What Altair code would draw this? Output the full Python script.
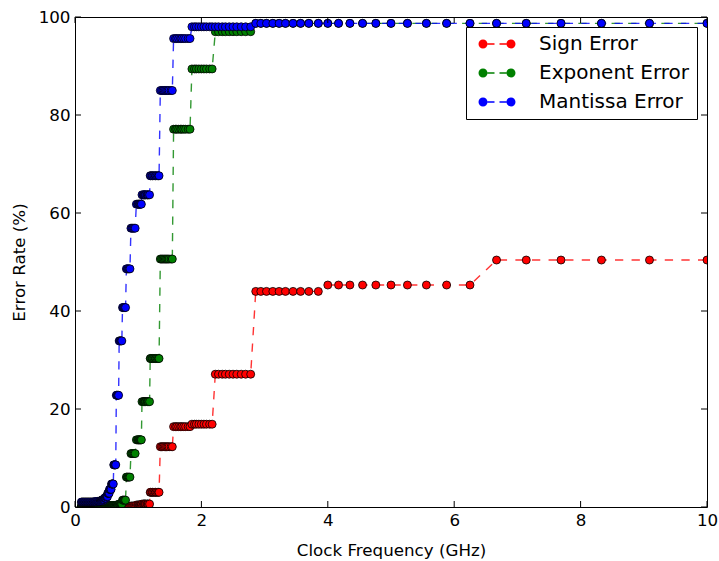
import altair as alt
import pandas as pd

FONT = "DejaVu Sans"

# Clock frequencies (GHz), grouped by plateau, ascending
freq_groups = [
    [0.10, 0.11, 0.12, 0.13, 0.14, 0.15, 0.16, 0.17, 0.18, 0.19,
     0.20, 0.21, 0.22, 0.23, 0.24, 0.25, 0.26, 0.27, 0.28, 0.29],
    [0.30, 0.31, 0.32, 0.33, 0.34, 0.35],
    [0.36, 0.37, 0.38, 0.39],
    [0.40, 0.405, 0.41, 0.415],
    [0.42, 0.425, 0.43, 0.435],
    [0.44, 0.445, 0.45, 0.455, 0.46],
    [0.465, 0.47, 0.475, 0.48, 0.488],
    [0.493, 0.498, 0.503, 0.508, 0.513],
    [0.518, 0.524, 0.529, 0.535, 0.541],
    [0.546, 0.552, 0.559, 0.565, 0.571],
    [0.578, 0.585, 0.592, 0.599, 0.606],
    [0.613, 0.621, 0.629, 0.637, 0.645],
    [0.654, 0.662, 0.671, 0.680, 0.690],
    [0.699, 0.709, 0.719, 0.730, 0.741],
    [0.752, 0.763, 0.775, 0.787, 0.800],
    [0.813, 0.826, 0.840, 0.855, 0.870],
    [0.885, 0.901, 0.917, 0.935, 0.952],
    [0.971, 0.990, 1.00, 1.01, 1.02, 1.03, 1.04, 1.05],
    [1.06, 1.08, 1.09, 1.10, 1.11, 1.12, 1.14, 1.15, 1.16, 1.18],
    [1.19, 1.20, 1.22, 1.23, 1.25, 1.27, 1.28, 1.30, 1.32, 1.33],
    [1.35, 1.37, 1.39, 1.41, 1.43, 1.45, 1.47, 1.49, 1.52, 1.54],
    [1.56, 1.59, 1.61, 1.64, 1.67, 1.69, 1.72, 1.75, 1.79, 1.82],
    [1.85, 1.89, 1.92, 1.96, 2.00, 2.04, 2.08, 2.13, 2.17],
    [2.22, 2.27, 2.33, 2.38, 2.44, 2.50, 2.56, 2.63, 2.70, 2.78],
    [2.86, 2.94, 3.03, 3.13, 3.23, 3.33, 3.45, 3.57, 3.70, 3.85],
    [4.00, 4.17, 4.35, 4.55, 4.76, 5.00, 5.26, 5.56, 5.88, 6.25],
    [6.67, 7.14, 7.69, 8.33, 9.09, 10.0],
]

# Error rate (%) of each plateau
sign_levels = [0, 0, 0, 0, 0, 0, 0, 0, 0, 0, 0, 0, 0, 0, 0,
               0.1, 0.2, 0.4, 0.6, 3.0, 12.3, 16.4, 16.9, 27.1, 44.0, 45.3, 50.4]
exponent_levels = [0.2, 0.2, 0.2, 0.3, 0.3, 0.3, 0.3, 0.3, 0.3, 0.3, 0.3, 0.3, 0.4, 0.6, 1.4,
                   6.1, 10.9, 13.7, 21.5, 30.3, 50.6, 77.1, 89.4, 97.0, 98.7, 98.7, 98.7]
mantissa_levels = [1.0, 1.05, 1.15, 1.25, 1.35, 1.5, 1.8, 2.1, 2.8, 3.6, 4.7, 8.6, 22.8, 33.9, 40.7,
                   48.6, 56.9, 61.8, 63.7, 67.6, 85.0, 95.6, 98.0, 98.0, 98.7, 98.7, 98.7]

series_names = ["Sign Error", "Exponent Error", "Mantissa Error"]
series_colors = ["#ff0000", "#008000", "#0000ff"]
x_ticks = [0, 2, 4, 6, 8, 10]
y_ticks = [0, 20, 40, 60, 80, 100]

W, H = 632, 490
TICK = 6

rows = []
for name, levels in zip(series_names, [sign_levels, exponent_levels, mantissa_levels]):
    k = 0
    for grp, lev in zip(freq_groups, levels):
        for f in grp:
            rows.append({"series": name, "freq": f, "rate": lev, "order": k})
            k += 1
df = pd.DataFrame(rows)
xt_df = pd.DataFrame({"freq": x_ticks})
yt_df = pd.DataFrame({"rate": y_ticks})

xscale = alt.Scale(domain=[0, 10], nice=False, zero=False)
yscale = alt.Scale(domain=[0, 100], nice=False, zero=False)
col_scale = alt.Scale(domain=series_names, range=series_colors)

axis_common = dict(domain=False, grid=False, ticks=False, tickSize=0,
                   labelFont=FONT, labelFontSize=16.7, labelColor="black",
                   titleFont=FONT, titleFontSize=16.7, titleFontWeight="normal",
                   titleColor="black", labelFlush=False, labelOverlap=False)

axis_x = alt.Axis(orient="bottom", values=x_ticks, format="d", labelPadding=5,
                  title="Clock Frequency (GHz)", titlePadding=14, **axis_common)
axis_y = alt.Axis(orient="left", values=y_ticks, format="d", labelPadding=5,
                  title="Error Rate (%)", titlePadding=10, **axis_common)

LEG_PATH = ("M -0.9 0 A 0.9 0.9 0 1 0 0.9 0 A 0.9 0.9 0 1 0 -0.9 0 Z "
            "M 0.9 -0.16 L 2.3 -0.16 L 2.3 0.16 L 0.9 0.16 Z "
            "M 3.3 -0.16 L 4.7 -0.16 L 4.7 0.16 L 3.3 0.16 Z "
            "M 4.7 0 A 0.9 0.9 0 1 0 6.5 0 A 0.9 0.9 0 1 0 4.7 0 Z")

legend = alt.Legend(title=None, orient="top-right", offset=10, symbolType=LEG_PATH,
                    symbolSize=100, symbolStrokeWidth=0, symbolOpacity=1,
                    labelFont=FONT, labelFontSize=20, labelColor="black", labelOffset=46,
                    labelLimit=400, padding=7, rowPadding=9, strokeColor="black",
                    fillColor="white", cornerRadius=0)

X = alt.X("freq:Q", scale=xscale, axis=axis_x)
Y = alt.Y("rate:Q", scale=yscale, axis=axis_y)

layers = []
for i, name in enumerate(series_names):
    d = df[df["series"] == name]
    line = alt.Chart(d).mark_line(strokeWidth=1.4, strokeDash=[8.3, 8.3], clip=True,
                                  strokeOpacity=0.8).encode(
        x=X, y=Y, stroke=alt.value(series_colors[i]), order="order:Q",
    )
    pts = alt.Chart(d).mark_point(filled=True, shape="circle", size=64, stroke="black",
                                  strokeWidth=0.8, opacity=1, clip=True).encode(
        x=X, y=Y, fill=alt.Fill("series:N", scale=col_scale, legend=legend),
    )
    layers += [line, pts]

# inward-pointing ticks on all four sides
tick_bottom = alt.Chart(xt_df).mark_rule(color="black", strokeWidth=1).encode(
    x=alt.X("freq:Q", scale=xscale, axis=axis_x), y=alt.value(H), y2=alt.value(H - TICK))
tick_top = alt.Chart(xt_df).mark_rule(color="black", strokeWidth=1).encode(
    x=alt.X("freq:Q", scale=xscale, axis=axis_x), y=alt.value(0), y2=alt.value(TICK))
tick_left = alt.Chart(yt_df).mark_rule(color="black", strokeWidth=1).encode(
    y=alt.Y("rate:Q", scale=yscale, axis=axis_y), x=alt.value(0), x2=alt.value(TICK))
tick_right = alt.Chart(yt_df).mark_rule(color="black", strokeWidth=1).encode(
    y=alt.Y("rate:Q", scale=yscale, axis=axis_y), x=alt.value(W), x2=alt.value(W - TICK))

chart = (
    alt.layer(*layers, tick_bottom, tick_top, tick_left, tick_right)
    .properties(width=W, height=H,
                autosize=alt.AutoSizeParams(type="none"),
                padding={"left": 75, "top": 17, "right": 12, "bottom": 54},
                background="white")
    .configure_view(stroke="black", strokeWidth=1)
)

chart.save("out.html", embed_options={"renderer": "svg", "actions": False})
